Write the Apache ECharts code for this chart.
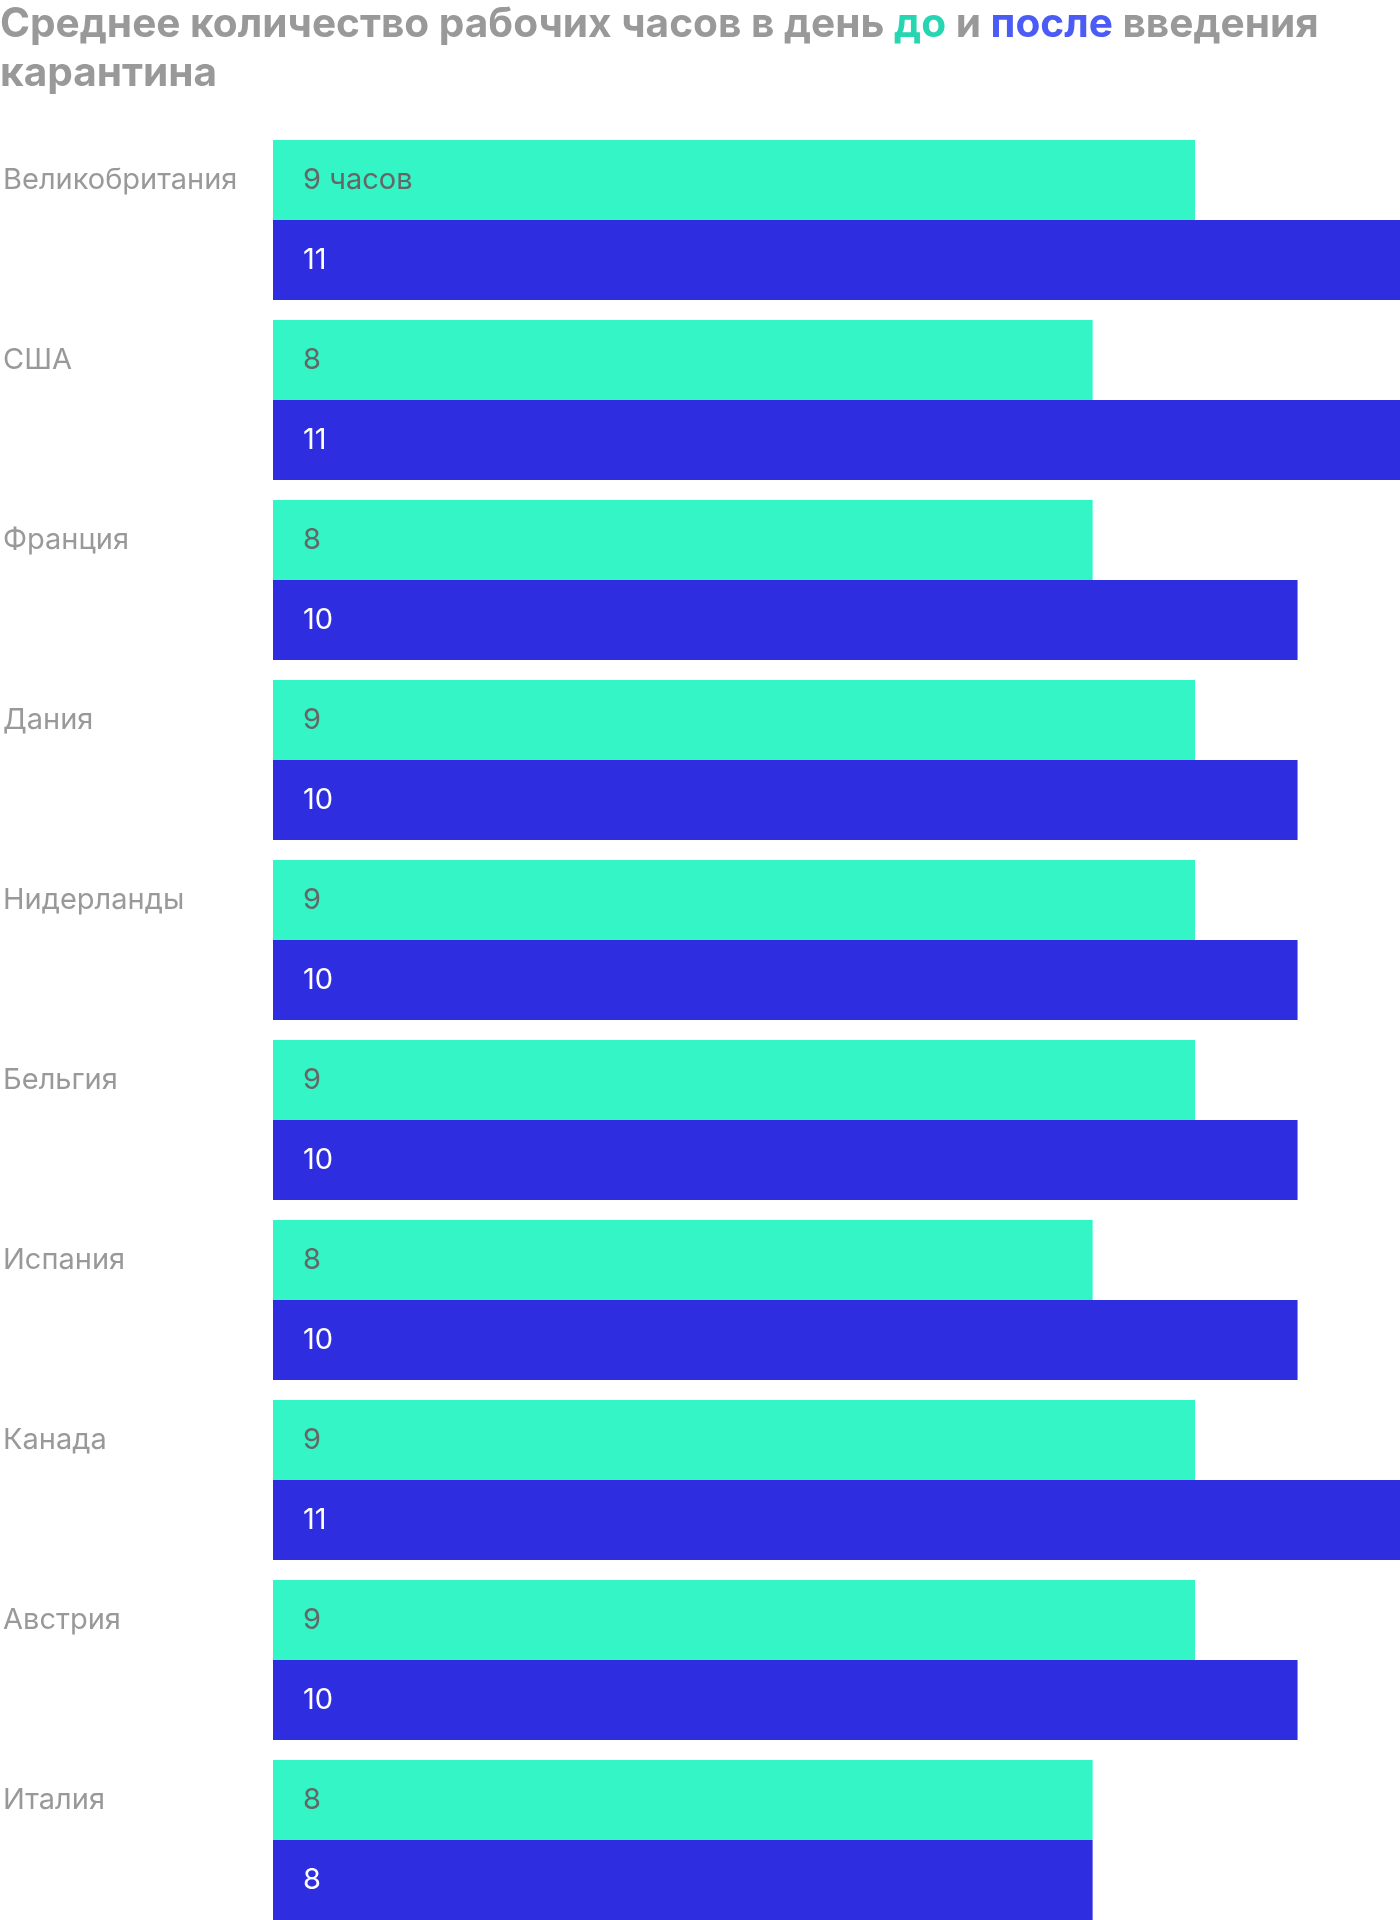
<!DOCTYPE html>
<html>
<head>
<meta charset="utf-8">
<script src="https://cdn.jsdelivr.net/npm/echarts@6/dist/echarts.min.js"></script>
<style>
html,body{margin:0;padding:0;background:#fff;}
#chart{width:1400px;height:1920px;}
</style>
</head>
<body>
<div id="chart"></div>
<script>
const categories = ['Великобритания','США','Франция','Дания','Нидерланды','Бельгия','Испания','Канада','Австрия','Италия'];
const beforeHours = [9,8,8,9,9,9,8,9,9,8];
const afterHours = [11,11,10,10,10,10,10,11,10,8];

const chart = echarts.init(document.getElementById('chart'));
const FONT = 'Inter, "Noto Sans", sans-serif';
const tStyle = (c) => ({fontSize: 40.6, fontWeight: 'bold', color: c, fontFamily: FONT, lineHeight: 49});
chart.setOption({
  animation: false,
  backgroundColor: '#ffffff',
  title: {
    left: 0, top: 0, padding: 0,
    text: '{g|Среднее количество рабочих часов в день }{d|до}{g| и }{p|после}{g| введения}\n{g|карантина}',
    textStyle: {
      rich: {g: tStyle('#999999'), d: tStyle('#25D6B0'), p: tStyle('#4A5BF6')}
    }
  },
  grid: {left: 270, right: 0, top: 220, bottom: 80, containLabel: false},
  xAxis: {type: 'value', min: 0, max: 11, show: false},
  yAxis: {
    type: 'category', data: categories, inverse: true, boundaryGap: false,
    axisLine: {show: false}, axisTick: {show: false}, splitLine: {show: false},
    axisLabel: {
      align: 'left', margin: 270, verticalAlign: 'middle',
      formatter: v => '{a|' + v + '}\n{a| }',
      rich: {a: {color: '#999999', fontSize: 29, fontFamily: FONT, lineHeight: 80}}
    }
  },
  series: [
    {
      name: 'до', type: 'bar', data: beforeHours, barWidth: 80, barGap: '0%', clip: false,
      itemStyle: {color: '#33F5C6'},
      label: {
        show: true, position: 'insideLeft', distance: 30, color: '#666666', fontSize: 29, fontFamily: FONT,
        formatter: p => p.dataIndex === 0 ? p.value + ' часов' : String(p.value)
      }
    },
    {
      name: 'после', type: 'bar', data: afterHours, barWidth: 80, barGap: '0%', clip: false,
      itemStyle: {color: '#2E2EE0'},
      label: {show: true, position: 'insideLeft', distance: 30, color: '#ffffff', fontSize: 29, fontFamily: FONT}
    }
  ]
});
</script>
</body>
</html>
